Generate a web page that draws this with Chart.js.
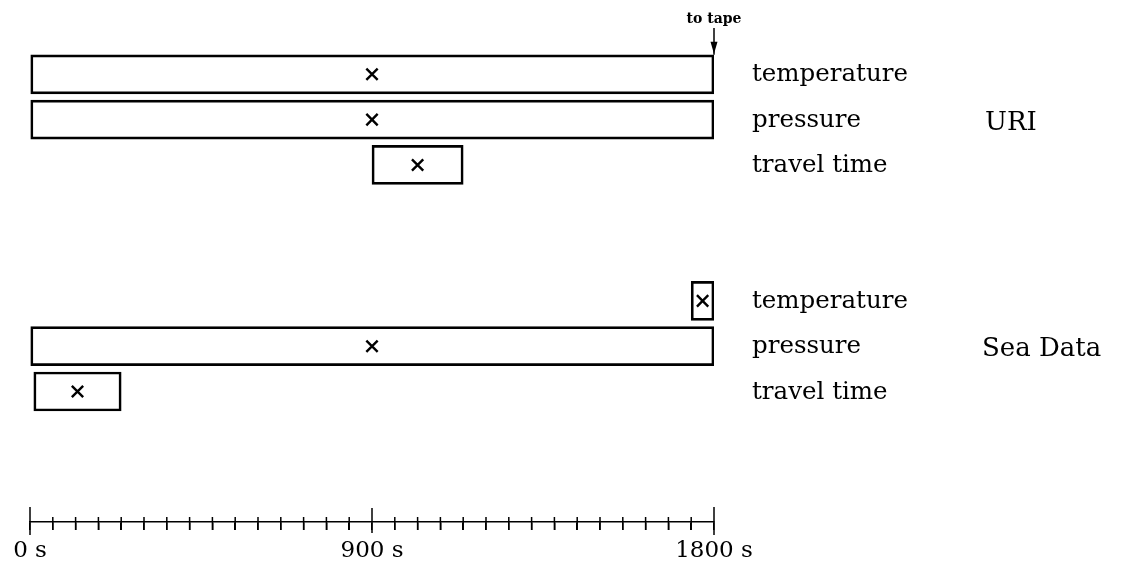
<!DOCTYPE html>
<html>
<head>
<meta charset="utf-8">
<script src="https://cdn.jsdelivr.net/npm/chart.js@4"></script>
<style>
  html, body { margin: 0; padding: 0; background: #fff; }
  #wrap { width: 1127px; height: 569px; }
</style>
</head>
<body>
<div id="wrap"><canvas id="c" width="1127" height="569"></canvas></div>
<script>
// ---- data ----
const rowLabels = ['temperature', 'pressure', 'travel time', 'temperature', 'pressure', 'travel time'];
const rowPos = [0, 1, 2, 5, 6, 7];
const barStart = [0, 0, 900, 1740, 0, 10];
const barEnd = [1800, 1800, 1140, 1800, 1800, 240];
const markerX = [900, 900, 1020, 1770, 900, 125];
const groupLabels = ['URI', 'Sea Data'];
const groupRows = [1, 6];
const axisLabelValues = [0, 900, 1800];
const tickStep = 60;
const xMin = 0, xMax = 1800;
const tapeLabel = 'to tape';
const tapeAt = 1800;

const SERIF = '"DejaVu Serif", "Liberation Serif", serif';

const labelsPlugin = {
  id: 'labels',
  afterDraw(chart) {
    const ctx = chart.ctx;
    const xs = chart.scales.x, ys = chart.scales.y;
    const right = xs.getPixelForValue(xMax);
    ctx.save();
    ctx.fillStyle = '#000';
    ctx.textBaseline = 'alphabetic';
    ctx.textAlign = 'left';
    ctx.font = '24.5px ' + SERIF;
    rowLabels.forEach((l, i) => {
      ctx.fillText(l, right + 38, ys.getPixelForValue(rowPos[i]) + 7);
    });
    ctx.font = '26px ' + SERIF;
    groupLabels.forEach((g, i) => {
      ctx.fillText(g, i === 0 ? right + 271 : right + 268, ys.getPixelForValue(groupRows[i]) + 10);
    });
    // to tape label and arrow
    const tx = xs.getPixelForValue(tapeAt);
    const topBar = ys.getPixelForValue(rowPos[0]) - 19.5;
    ctx.font = 'bold 14px ' + SERIF;
    ctx.textAlign = 'center';
    ctx.fillText(tapeLabel, tx, 23);
    ctx.strokeStyle = '#000';
    ctx.lineWidth = 1.5;
    ctx.beginPath();
    ctx.moveTo(tx, 28);
    ctx.lineTo(tx, topBar);
    ctx.stroke();
    ctx.beginPath();
    ctx.moveTo(tx - 3.5, topBar - 13);
    ctx.lineTo(tx + 3.5, topBar - 13);
    ctx.lineTo(tx, topBar - 1);
    ctx.closePath();
    ctx.fill();
    // upward tick parts
    const ay = xs.top;
    for (let v = xMin; v <= xMax; v += tickStep) {
      const px = xs.getPixelForValue(v);
      let up = 5, down = 0;
      if (v === xMin || v === xMax) { up = 15; down = 5; }
      else if (v % 900 === 0) { up = 14; down = 3; }
      ctx.beginPath();
      ctx.moveTo(px, ay - up);
      ctx.lineTo(px, ay + 8 + down);
      ctx.stroke();
    }
    ctx.restore();
  }
};

const barData = rowPos.map((r, i) => ({ y: r, x: [barStart[i], barEnd[i]] }));
const markData = rowPos.map((r, i) => ({ x: markerX[i], y: r }));

new Chart(document.getElementById('c'), {
  type: 'bar',
  data: {
    datasets: [
      {
        type: 'bar',
        indexAxis: 'y',
        xAxisID: 'x',
        yAxisID: 'y',
        order: 2,
        data: barData,
        backgroundColor: 'rgba(255,255,255,0)',
        borderColor: '#000',
        borderWidth: 2,
        borderSkipped: false,
        barThickness: 39
      },
      {
        type: 'scatter',
        indexAxis: 'x',
        xAxisID: 'x',
        yAxisID: 'y',
        order: 1,
        data: markData,
        showLine: false,
        pointStyle: 'crossRot',
        pointRadius: 8,
        pointBorderWidth: 2.4,
        pointBorderColor: '#000',
        borderColor: '#000',
        borderWidth: 2.4,
        backgroundColor: '#000'
      }
    ]
  },
  options: {
    responsive: false,
    animation: false,
    layout: { padding: { left: 30, right: 413, top: 29, bottom: -4 } },
    plugins: { legend: { display: false }, tooltip: { enabled: false } },
    scales: {
      x: {
        type: 'linear',
        axis: 'x',
        position: 'bottom',
        min: xMin,
        max: xMax,
        offset: false,
        grid: { display: true, offset: false, drawOnChartArea: false, drawTicks: true, tickLength: 8, color: '#000', lineWidth: 1.5 },
        border: { display: true, color: '#000', width: 1.5 },
        ticks: {
          stepSize: tickStep,
          autoSkip: false,
          maxRotation: 0,
          padding: 10,
          color: '#000',
          font: { family: SERIF, size: 23, lineHeight: 1 },
          callback: (v) => axisLabelValues.includes(v) ? v + ' s' : ''
        }
      },
      y: {
        type: 'linear',
        axis: 'y',
        position: 'left',
        display: false,
        offset: false,
        grid: { offset: false },
        reverse: true,
        min: -1,
        max: 9.88
      }
    }
  },
  plugins: [labelsPlugin]
});
</script>
</body>
</html>
